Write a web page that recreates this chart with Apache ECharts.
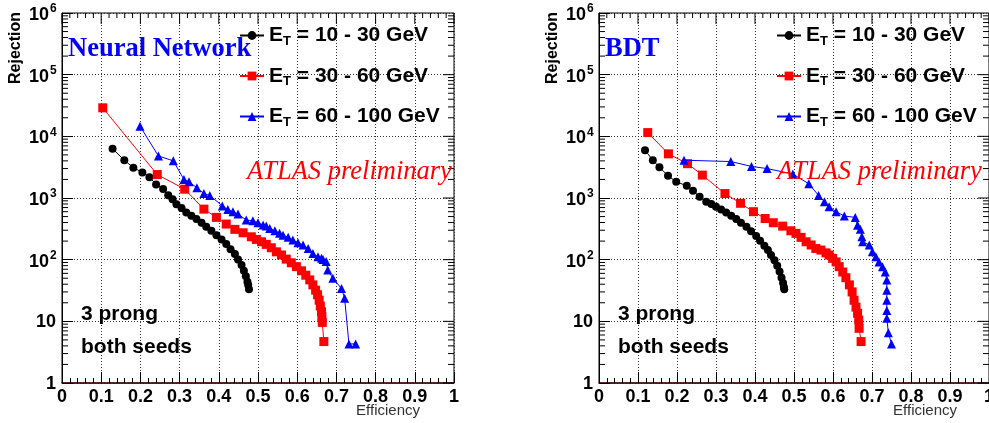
<!DOCTYPE html>
<html>
<head>
<meta charset="utf-8">
<script src="https://cdn.jsdelivr.net/npm/echarts@6/dist/echarts.min.js"></script>
<style>
  html, body { margin: 0; padding: 0; background: #fff; }
  #chart { width: 989px; height: 423px; }
</style>
</head>
<body>
<div id="chart"></div>
<script>
// legend names
var names = ['10 - 30', '30 - 60', '60 - 100'];
// tick labels
var xTicks = [0, 0.1, 0.2, 0.3, 0.4, 0.5, 0.6, 0.7, 0.8, 0.9, 1];
var yTicks = [1, 10, 100, 1000, 10000, 100000, 1000000];

// Neural Network, [efficiency, rejection]
var nnLow = [[0.129,6300],[0.159,4100],[0.182,3100],[0.205,2600],[0.223,2180],[0.240,1660],[0.258,1400],[0.271,1110],[0.282,950],
  [0.292,790],[0.305,690],[0.317,584],[0.330,515],[0.343,455],[0.356,396],[0.368,341],[0.381,294],[0.394,250],[0.407,213],
  [0.419,179],[0.430,147],[0.441,123],[0.449,101],[0.458,82],[0.464,66],[0.469,54],[0.473,44],[0.475,39],[0.477,33]];
var nnMid = [[0.104,29000],[0.243,2400],[0.313,1390],[0.362,660],[0.394,485],[0.419,378],[0.441,310],[0.462,273],[0.483,235],
  [0.496,213],[0.509,195],[0.521,177],[0.534,156],[0.547,134],[0.560,119],[0.572,102],[0.585,89],[0.598,77],[0.611,66],
  [0.622,56],[0.632,47],[0.640,39],[0.647,32],[0.652,27],[0.656,22],[0.659,17.7],[0.662,14.3],[0.663,11.9],[0.664,9.6],[0.668,4.7]];
var nnHigh = [[0.199,14600],[0.246,4800],[0.284,4000],[0.311,2000],[0.324,1830],[0.344,1470],[0.362,1180],[0.377,1100],
  [0.409,745],[0.423,650],[0.436,600],[0.449,548],[0.470,440],[0.487,427],[0.500,396],[0.513,365],[0.521,350],[0.530,320],
  [0.543,294],[0.555,268],[0.564,250],[0.577,230],[0.589,208],[0.602,188],[0.615,173],[0.628,152],[0.640,126],[0.653,111],
  [0.662,105],[0.666,101],[0.674,93],[0.678,68],[0.691,50],[0.713,34],[0.721,23.6],[0.732,4.3],[0.749,4.3]];

// BDT
var bdtLow = [[0.118,5970],[0.138,4100],[0.155,3150],[0.177,2300],[0.198,1830],[0.225,1580],[0.241,1310],[0.258,1050],
  [0.275,868],[0.288,796],[0.300,720],[0.313,653],[0.326,584],[0.339,515],[0.352,455],[0.364,396],[0.378,341],[0.390,290],
  [0.403,241],[0.413,202],[0.424,168],[0.433,143],[0.441,119],[0.450,98],[0.457,80],[0.463,64],[0.468,51],[0.472,42],
  [0.474,36],[0.475,33]];
var bdtMid = [[0.125,11500],[0.178,5200],[0.227,3600],[0.265,2350],[0.323,1180],[0.363,820],[0.396,600],[0.426,465],
  [0.447,397],[0.471,350],[0.492,294],[0.505,267],[0.518,230],[0.531,195],[0.544,173],[0.556,152],[0.569,143],[0.582,129],
  [0.590,119],[0.599,105],[0.608,92],[0.616,77],[0.625,63],[0.633,51],[0.642,39],[0.649,30],[0.654,22],[0.659,17],
  [0.663,13.5],[0.666,10.5],[0.667,7.7],[0.672,4.7]];
var bdtHigh = [[0.218,4100],[0.338,3900],[0.391,3250],[0.431,3000],[0.497,2450],[0.538,1700],[0.563,1100],[0.578,870],
  [0.590,720],[0.608,600],[0.629,510],[0.657,485],[0.663,363],[0.670,310],[0.674,235],[0.676,195],[0.693,173],[0.701,134],
  [0.710,111],[0.718,92],[0.727,77],[0.734,63],[0.738,47],[0.738,32],[0.738,22],[0.738,15],[0.738,11.2],[0.742,6.5],[0.750,4.3]];

// frame ticks on the top and right edges, plus y minor ticks (2..9 per decade)
var frameTicks = [];
for (var i = 0; i <= 50; i++) frameTicks.push({ side: 'x', v: i / 50, major: i % 5 === 0 });
[1, 10, 100, 1000, 10000, 100000].forEach(function (d) {
  frameTicks.push({ side: 'y', v: d, major: true });
  for (var k = 2; k <= 9; k++) frameTicks.push({ side: 'y', v: d * k, major: false });
});

var SANS = 'Liberation Sans';
var SERIF = 'Liberation Serif';
var myChart = echarts.init(document.getElementById('chart'));

function legendName(i) { return 'E_T = ' + names[i] + ' GeV'; }

function xAxis(grid) {
  return {
    type: 'value', gridIndex: grid, min: 0, max: 1, interval: 0.1,
    axisLine: { lineStyle: { color: '#4a0808', width: 1.5 } },
    axisTick: { inside: true, length: 11, lineStyle: { color: '#000' } },
    minorTick: { show: true, splitNumber: 5, length: 5, lineStyle: { color: '#000' } },
    axisLabel: { show: false },
    splitLine: { show: true, lineStyle: { color: '#333', type: [1, 2], width: 1 } }
  };
}

function yAxis(grid) {
  return {
    type: 'log', logBase: 10, gridIndex: grid, min: 1, max: 1000000, interval: 1,
    axisLine: { show: true, lineStyle: { color: '#000', width: 1 } },
    axisTick: { show: true, inside: true, length: 11, lineStyle: { color: '#000' } },
    axisLabel: { show: false },
    splitLine: { show: true, lineStyle: { color: '#333', type: [1, 2], width: 1 } }
  };
}

function curves(idx, sets) {
  var colors = ['#000000', '#ff0000', '#0000ff'];
  var symbols = ['circle', 'rect', 'triangle'];
  var sizes = [8, 9, 9];
  return sets.map(function (d, i) {
    return {
      name: legendName(i), type: 'line', xAxisIndex: idx, yAxisIndex: idx,
      data: d, symbol: symbols[i], symbolSize: sizes[i], showSymbol: true,
      lineStyle: { color: colors[i], width: 1 },
      itemStyle: { color: colors[i] },
      z: 3 + i
    };
  });
}

function frame(idx) {
  return {
    type: 'custom', xAxisIndex: idx, yAxisIndex: idx, silent: true, z: 1,
    data: frameTicks.map(function (t) { return [t.side === 'x' ? 0 : 1, t.v, t.major ? 1 : 0]; }),
    renderItem: function (params, api) {
      var isY = api.value(0) === 1, v = api.value(1), major = api.value(2) === 1;
      var st = { stroke: '#000', lineWidth: 1 };
      var len = major ? 11 : 6;
      var lines = [];
      if (isY) {
        var p = api.coord([0, v]), q = api.coord([1, v]);
        if (!major) lines.push({ type: 'line', shape: { x1: p[0], y1: p[1], x2: p[0] + len, y2: p[1] }, style: st });
        lines.push({ type: 'line', shape: { x1: q[0], y1: q[1], x2: q[0] - len, y2: q[1] }, style: st });
      } else {
        var t = api.coord([v, 1000000]);
        lines.push({ type: 'line', shape: { x1: t[0], y1: t[1], x2: t[0], y2: t[1] + (major ? 11 : 5) }, style: st });
      }
      return { type: 'group', children: lines };
    }
  };
}

function legends(left) {
  return [0, 1, 2].map(function (i) {
    return {
      data: [legendName(i)], left: left, top: 25 + i * 40.5, padding: 0,
      itemWidth: 24, itemHeight: 11, selectedMode: false,
      formatter: function (n) { return '{e|E}{t|T}{e| = ' + names[i] + ' GeV}'; },
      textStyle: {
        rich: {
          e: { fontFamily: SANS, fontWeight: 'bold', fontSize: 21, lineHeight: 24, color: '#000' },
          t: { fontFamily: SANS, fontWeight: 'bold', fontSize: 13, lineHeight: 12, verticalAlign: 'bottom', color: '#000' }
        }
      }
    };
  });
}

function label(text, x, y, font, fill, align, rot) {
  return {
    type: 'text', x: x, y: y, rotation: rot || 0, z: 10,
    style: { text: text, font: font, fill: fill, textAlign: align || 'left', textVerticalAlign: 'middle' }
  };
}

var panels = [
  { left: 62, width: 392, title: 'Neural Network', atlas: 185, sets: [nnLow, nnMid, nnHigh] },
  { left: 599, width: 391, title: 'BDT', atlas: 178, sets: [bdtLow, bdtMid, bdtHigh] }
];

var option = {
  animation: false,
  grid: panels.map(function (p) {
    return { left: p.left, top: 13, width: p.width, height: 370, show: true, borderColor: '#000', borderWidth: 1, backgroundColor: 'transparent' };
  }),
  xAxis: [xAxis(0), xAxis(1)],
  yAxis: [yAxis(0), yAxis(1)],
  legend: legends(239).concat(legends(776)),
  series: []
};
panels.forEach(function (p, k) {
  option.series = option.series.concat(curves(k, p.sets), [frame(k)]);
});
myChart.setOption(option);

// texts and tick labels, placed through the chart's own scales
var graphic = [];
var tickFont = 'bold 18px ' + SANS;
panels.forEach(function (p, k) {
  var x0 = p.left;
  graphic.push(
    label('Rejection', x0 - 46, 48, 'bold 16px ' + SANS, '#000', 'center', Math.PI / 2),
    label('Efficiency', x0 + 358, 411, '15px ' + SANS, '#333', 'right'),
    label(p.title, x0 + 6, 49, 'bold 26.5px ' + SERIF, '#0000ff'),
    label('ATLAS preliminary', x0 + p.atlas, 172, 'italic 26.5px ' + SERIF, '#ff0000'),
    label('3 prong', x0 + 19, 314, 'bold 21px ' + SANS, '#000'),
    label('both seeds', x0 + 19, 347, 'bold 21px ' + SANS, '#000')
  );
  xTicks.forEach(function (v) {
    var pt = myChart.convertToPixel({ gridIndex: k }, [v, 1]);
    var txt = (v === 0 || v === 1) ? String(v) : v.toFixed(1);
    graphic.push(label(txt, pt[0], pt[1] + 14, tickFont, '#000', 'center'));
  });
  yTicks.forEach(function (v) {
    var pt = myChart.convertToPixel({ gridIndex: k }, [0, v]);
    if (v < 100) {
      graphic.push(label(String(v), pt[0] - 6, pt[1] + 1, tickFont, '#000', 'right'));
    } else {
      graphic.push(label('10', pt[0] - 13, pt[1] + 2, tickFont, '#000', 'right'));
      graphic.push(label(String(Math.round(Math.log10(v))), pt[0] - 12, pt[1] - 4, 'bold 12px ' + SANS, '#000', 'left'));
    }
  });
});
myChart.setOption({ graphic: graphic });
</script>
</body>
</html>
